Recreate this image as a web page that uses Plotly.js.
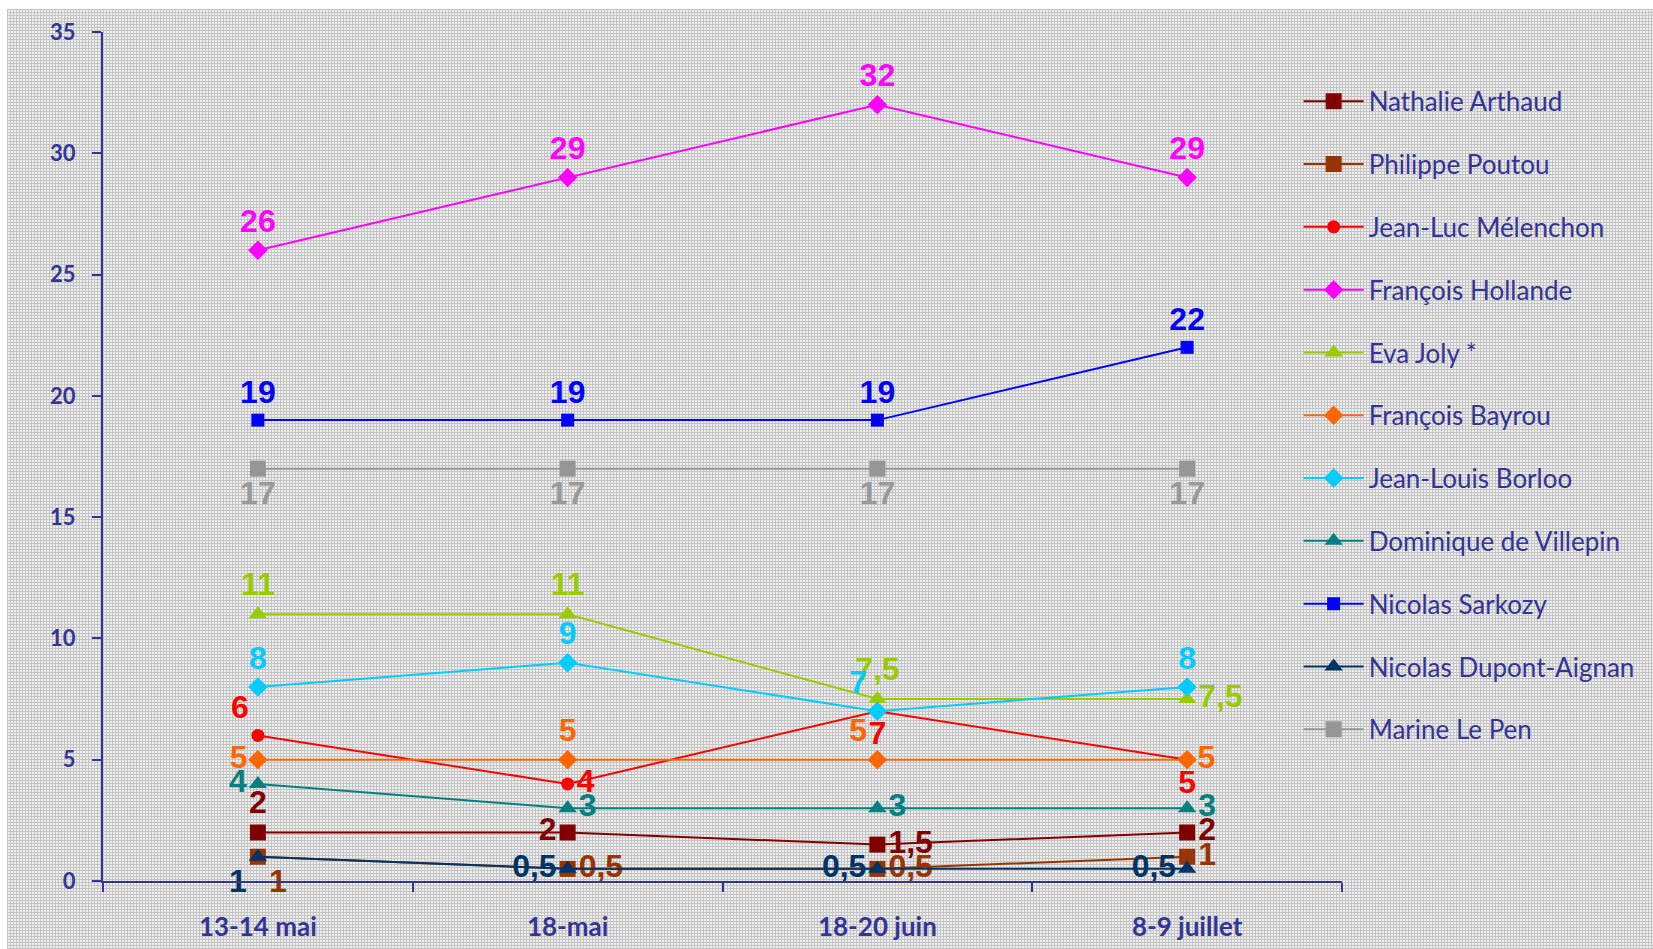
<!DOCTYPE html>
<html>
<head>
<meta charset="utf-8">
<script src="https://cdn.plot.ly/plotly-3.0.1.min.js"></script>
<style>
  html, body { margin:0; padding:0; background:#ffffff; }
  #bg { position:absolute; left:7px; top:9px; width:1646px; height:940px;
        background-color:#efefef;
        background-image:
          repeating-linear-gradient(0deg, #c4c4c4 0px, #c4c4c4 1px, transparent 1px, transparent 3px),
          repeating-linear-gradient(90deg, #c4c4c4 0px, #c4c4c4 1px, transparent 1px, transparent 3px); }
  #chart { position:absolute; left:0; top:0; width:1653px; height:949px; }
</style>
</head>
<body>
<div id="bg"></div>
<div id="chart"></div>
<script>
const categories = ["13-14 mai", "18-mai", "18-20 juin", "8-9 juillet"];

const arthaud   = [2, 2, 1.5, 2];
const poutou    = [1, 0.5, 0.5, 1];
const melenchon = [6, 4, 7, 5];
const hollande  = [26, 29, 32, 29];
const joly      = [11, 11, 7.5, 7.5];
const bayrou    = [5, 5, 5, 5];
const borloo    = [8, 9, 7, 8];
const villepin  = [4, 3, 3, 3];
const sarkozy   = [19, 19, 19, 22];
const dupont    = [1, 0.5, 0.5, 0.5];
const lepen     = [17, 17, 17, 17];

const seriesDefs = [
  {name:"Nathalie Arthaud", y:arthaud, color:"#800000", symbol:"square", size:16,
   pos:["top center","middle left","middle right","middle right"]},
  {name:"Philippe Poutou", y:poutou, color:"#993300", symbol:"square", size:16,
   pos:["bottom right","middle right","middle right","middle right"]},
  {name:"Jean-Luc Mélenchon", y:melenchon, color:"#ff0000", symbol:"circle", size:13,
   pos:["top left","middle right","bottom center","bottom center"]},
  {name:"François Hollande", y:hollande, color:"#ff00ff", symbol:"diamond", size:15,
   pos:["top center","top center","top center","top center"]},
  {name:"Eva Joly *", y:joly, color:"#99cc00", symbol:"triangle-up", size:16,
   pos:["top center","top center","top center","middle right"]},
  {name:"François Bayrou", y:bayrou, color:"#ff6600", symbol:"diamond", size:15,
   pos:["middle left","top center","top left","middle right"]},
  {name:"Jean-Louis Borloo", y:borloo, color:"#00ccff", symbol:"diamond", size:15,
   pos:["top center","top center","top left","top center"]},
  {name:"Dominique de Villepin", y:villepin, color:"#008080", symbol:"triangle-up", size:16,
   pos:["middle left","middle right","middle right","middle right"]},
  {name:"Nicolas Sarkozy", y:sarkozy, color:"#0000ff", symbol:"square", size:13,
   pos:["top center","top center","top center","top center"]},
  {name:"Nicolas Dupont-Aignan", y:dupont, color:"#003366", symbol:"triangle-up", size:16,
   pos:["bottom left","middle left","middle left","middle left"]},
  {name:"Marine Le Pen", y:lepen, color:"#969696", symbol:"square", size:16,
   pos:["bottom center","bottom center","bottom center","bottom center"]}
];

const traces = seriesDefs.map((s, i) => ({
  type: "scatter",
  mode: "lines+markers+text",
  name: s.name,
  legendgroup: "g" + i,
  x: categories,
  y: s.y,
  text: s.y.map(v => String(v).replace(".", ",")),
  textposition: s.pos,
  textfont: {family: "Liberation Sans, Arial, sans-serif", size: 32, color: s.color === "#969696" ? "#999999" : s.color, weight: "bold"},
  line: {color: s.color, width: 2},
  marker: {color: s.color, symbol: s.symbol, size: s.size},
  cliponaxis: false,
  hoverinfo: "x+y+name"
}));

const axisColor = "#333399";

const layout = {
  width: 1653,
  height: 949,
  margin: {l: 103, r: 311, t: 32, b: 68},
  paper_bgcolor: "rgba(0,0,0,0)",
  plot_bgcolor: "rgba(0,0,0,0)",
  showlegend: true,
  legend: {
    x: 0.965, xanchor: "left",
    y: 0.946, yanchor: "top",
    bgcolor: "rgba(0,0,0,0)",
    font: {family: "Lato, Open Sans, sans-serif", size: 26, color: axisColor},
    traceorder: "grouped",
    tracegroupgap: 26,
    itemwidth: 60
  },
  xaxis: {
    type: "category",
    range: [-0.5, 3.5],
    showgrid: false,
    zeroline: false,
    showline: true,
    linecolor: axisColor,
    linewidth: 2,
    ticks: "outside",
    tickson: "boundaries",
    ticklen: 9,
    tickwidth: 2,
    tickcolor: axisColor,
    ticklabelstandoff: 22,
    tickfont: {family: "Lato, Open Sans, sans-serif", size: 26, color: axisColor, weight: "bold"}
  },
  yaxis: {
    range: [0, 35],
    dtick: 5,
    showgrid: false,
    zeroline: false,
    showline: true,
    linecolor: axisColor,
    linewidth: 2,
    ticks: "outside",
    ticklen: 9,
    tickwidth: 2,
    tickcolor: axisColor,
    ticklabelstandoff: 12,
    tickfont: {family: "Lato, Open Sans, sans-serif", size: 22, color: axisColor, weight: "bold"}
  }
};

Plotly.newPlot("chart", traces, layout, {displayModeBar: false});
</script>
</body>
</html>
